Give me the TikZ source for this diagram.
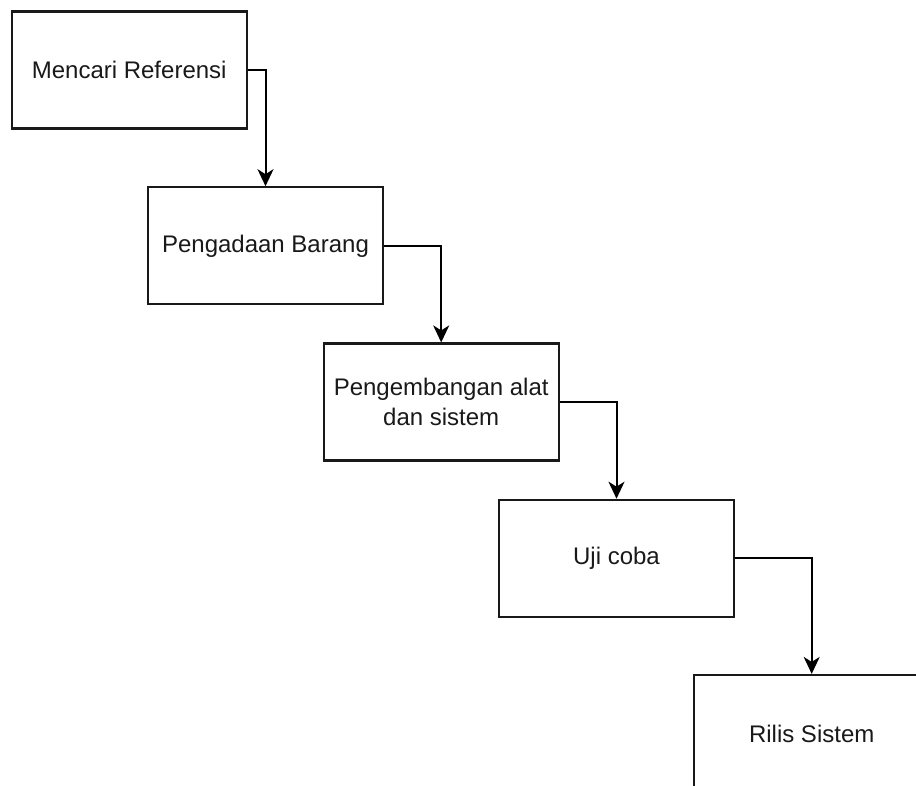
\documentclass[tikz,border=0pt]{standalone}
\usepackage{fontspec}
\setmainfont{Liberation Sans}
\usetikzlibrary{arrows.meta}
\begin{document}
\begin{tikzpicture}[x=1pt,y=-1pt,
  box/.style={draw=black!90, line width=2.2pt, minimum width=235pt, minimum height=117pt,
    inner sep=0pt, align=center, font=\fontsize{24}{29.5}\selectfont, text=black!90},
  conn/.style={draw=black, line width=2pt, -{Stealth[length=17pt,width=16pt,inset=5pt]}}]
\useasboundingbox (0,0) rectangle (916,785);
\clip (0,0) rectangle (916,785);
\node[box] (a) at (129.2,70) {Mencari Referensi};
\node[box] (b) at (265.5,245.8) {Pengadaan Barang};
\node[box] (c) at (441.2,402) {Pengembangan alat\\dan sistem};
\node[box] (d) at (616.5,558.3) {Uji coba};
\node[box] (e) at (811.7,733.5) {Rilis Sistem};
\draw[conn] (a.east) -| (b.north);
\draw[conn] (b.east) -| (c.north);
\draw[conn] (c.east) -| (d.north);
\draw[conn] (d.east) -| (e.north);
\end{tikzpicture}
\end{document}
